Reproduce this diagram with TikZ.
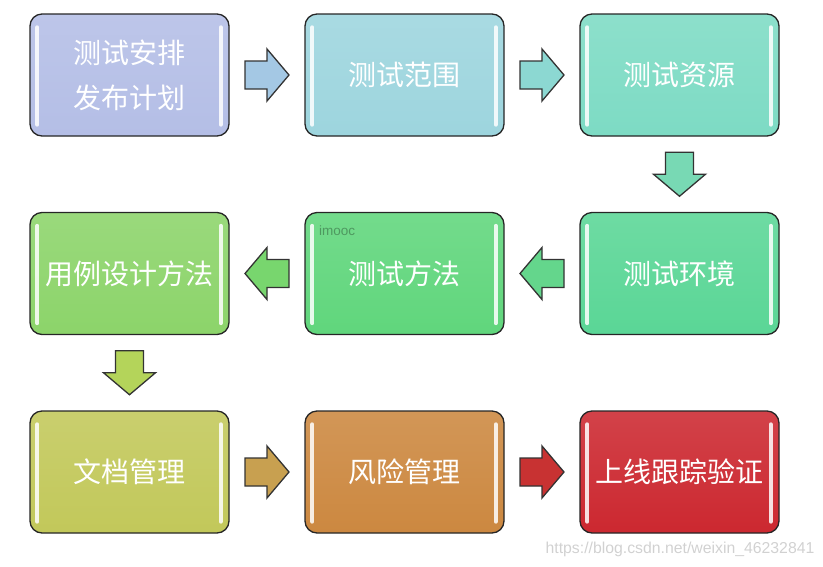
\documentclass[tikz,border=0pt]{standalone}
\usepackage{fontspec}
\newfontfamily\cjk{Noto Sans CJK SC}
\newfontfamily\wmfont{Liberation Sans}
\usetikzlibrary{calc}
\definecolor{cA}{HTML}{B4BEE6}
\definecolor{cB}{HTML}{9DD5DE}
\definecolor{cC}{HTML}{7DDBC4}
\definecolor{cD}{HTML}{5AD696}
\definecolor{cE}{HTML}{60D67C}
\definecolor{cF}{HTML}{8CD46A}
\definecolor{cG}{HTML}{C2C85A}
\definecolor{cH}{HTML}{CC8840}
\definecolor{cI}{HTML}{CC2830}
\definecolor{aAB}{HTML}{A4C8E4}
\definecolor{aBC}{HTML}{8CD8D2}
\definecolor{aCD}{HTML}{78D9B4}
\definecolor{aDE}{HTML}{64D68C}
\definecolor{aEF}{HTML}{78D66E}
\definecolor{aFG}{HTML}{B4D45A}
\definecolor{aGH}{HTML}{C8A050}
\definecolor{aHI}{HTML}{C83232}
\begin{document}
\begin{tikzpicture}[x=1pt,y=-1pt,
  stepbox/.style={draw=black!85, line width=1.3pt, rounded corners=12pt,
    minimum width=199pt, minimum height=122pt, inner sep=0pt,
    text=white, align=center, font=\cjk\fontsize{28}{45}\selectfont,
    top color=#1!88!white, bottom color=#1},
  hl/.style={draw=white, opacity=0.85, line width=4pt, line cap=round},
  blockarrow/.style={draw=black!80, line width=1.3pt, line join=miter, fill=#1},
  wm/.style={inner sep=0pt, font=\wmfont\fontsize{15.8}{18}\selectfont, text=black!18}
]
\useasboundingbox (0,0) rectangle (823,566);
% boxes
\node[stepbox=cA] (b1) at (129.5,75)  {测试安排\\发布计划};
\node[stepbox=cB] (b2) at (404.5,75)  {测试范围};
\node[stepbox=cC] (b3) at (679.5,75)  {测试资源};
\node[stepbox=cD] (b4) at (679.5,273.5) {测试环境};
\node[stepbox=cE] (b5) at (404.5,273.5) {测试方法};
\node[stepbox=cF] (b6) at (129.5,273.5) {用例设计方法};
\node[stepbox=cG] (b7) at (129.5,472) {文档管理};
\node[stepbox=cH] (b8) at (404.5,472) {风险管理};
\node[stepbox=cI] (b9) at (679.5,472) {上线跟踪验证};
% highlights
\foreach \b in {b1,b2,b3,b4,b5,b6,b7,b8,b9}{
  \draw[hl] ($(\b.north west)+(8,14)$) -- ($(\b.south west)+(8,-12)$);
  \draw[hl] ($(\b.north east)+(-9,14)$) -- ($(\b.south east)+(-9,-12)$);
}
% block arrows
\newcommand{\blockarr}[3]{%
  \draw[blockarrow=#3, shift={(#1)}, rotate=#2]
    (-22,-14) -- (0,-14) -- (0,-26) -- (22,0) -- (0,26) -- (0,14) -- (-22,14) -- cycle;}
\blockarr{$(b1.east)!0.5!(b2.west)$}{0}{aAB}
\blockarr{$(b2.east)!0.5!(b3.west)$}{0}{aBC}
\blockarr{$(b3.south)!0.5!(b4.north)$}{-90}{aCD}
\blockarr{$(b4.west)!0.5!(b5.east)$}{180}{aDE}
\blockarr{$(b5.west)!0.5!(b6.east)$}{180}{aEF}
\blockarr{$(b6.south)!0.5!(b7.north)$}{-90}{aFG}
\blockarr{$(b7.east)!0.5!(b8.west)$}{0}{aGH}
\blockarr{$(b8.east)!0.5!(b9.west)$}{0}{aHI}
% watermarks
\node[inner sep=0pt, anchor=base west, font=\wmfont\fontsize{13.5}{16}\selectfont, text=black, opacity=0.3] (wm1) at (319,235) {imooc};
\node[wm, anchor=base] (wm2) at (680,553) {https://blog.csdn.net/weixin\_46232841};
\end{tikzpicture}
\end{document}
